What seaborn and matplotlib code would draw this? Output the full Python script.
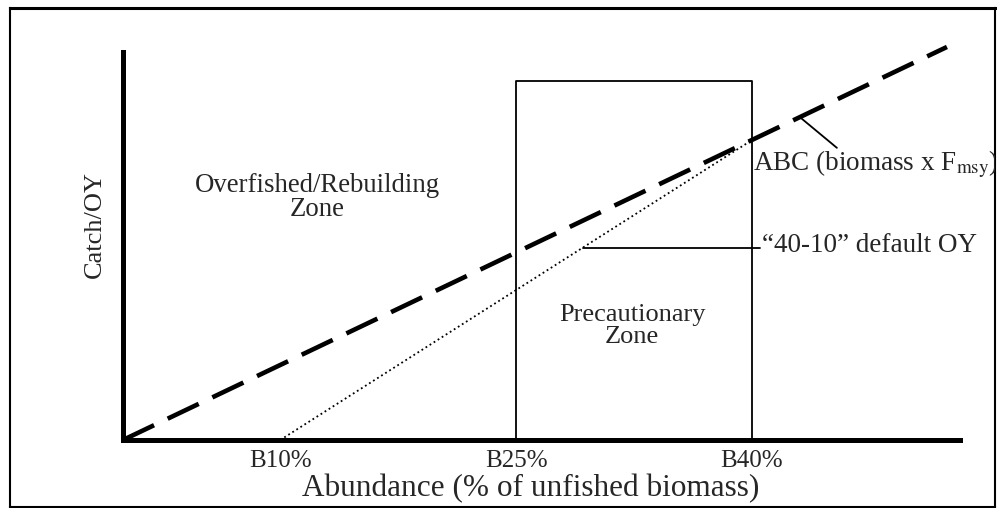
import matplotlib
matplotlib.use("Agg")
import matplotlib.pyplot as plt
import seaborn as sns

# abundance in % of unfished biomass, catch in relative units
abc_x = [0, 52.4]
abc_y = [0, 1.013]
oy_x = [10, 40]
oy_y = [0, 0.773]
zone_x = [25, 25, 40, 40]
zone_y = [0, 0.925, 0.925, 0]
tick_pos = [10, 25, 40]
tick_labels = ["B10%", "B25%", "B40%"]

sns.set_style('white')
plt.rcParams['font.family'] = ['Liberation Serif', 'DejaVu Serif']
plt.rcParams['mathtext.fontset'] = 'stix'

fig = plt.figure(figsize=(9.97, 5.08), dpi=100)

# outer frame
frame = fig.add_axes([10 / 997, 1 / 508, 985 / 997, 499 / 508])
frame.set_facecolor('none')
frame.set_xticks([])
frame.set_yticks([])
for side, sp in frame.spines.items():
    sp.set_color('black')
    sp.set_linewidth(2.2 if side == 'top' else 1.5)

ax = fig.add_axes([123 / 997, 68 / 508, 837 / 997, 388 / 508])
ax.set_facecolor('none')
ax.set_xlim(0, 53.23)
ax.set_ylim(0, 1)

sns.lineplot(x=abc_x, y=abc_y, ax=ax, color='black', linewidth=3.3, clip_on=False)
ax.lines[-1].set_dashes((7.5, 3.3))
sns.lineplot(x=oy_x, y=oy_y, ax=ax, color='black', linewidth=1.3, linestyle=':')
sns.lineplot(x=zone_x, y=zone_y, ax=ax, color='black', linewidth=1.3,
             sort=False, estimator=None)

# pointer lines
ax.plot([43.05, 45.4], [0.832, 0.753], color='black', lw=1.3)
ax.plot([29.25, 40.5], [0.495, 0.495], color='black', lw=1.3)

for side in ['top', 'right']:
    ax.spines[side].set_visible(False)
for side in ['left', 'bottom']:
    ax.spines[side].set_linewidth(3.6)
    ax.spines[side].set_color('black')

ax.set_xticks(tick_pos)
ax.set_xticklabels(tick_labels, fontsize=18)
ax.set_yticks([])
ax.tick_params(axis='x', length=0, pad=7)
ax.set_xlabel("Abundance (% of unfished biomass)", fontsize=22.5)
ax.set_ylabel("Catch/OY", fontsize=19)
ax.xaxis.set_label_coords(0.4875, -0.088)
ax.yaxis.set_label_coords(-0.02, 0.556)

ax.text(12.36, 0.625, "Overfished/Rebuilding\nZone", ha='center', va='center',
        fontsize=19.3, multialignment='center', linespacing=0.95)
ax.text(32.37, 0.294, "Precautionary\nZone", ha='center', va='center',
        fontsize=19, multialignment='center', linespacing=0.95)
frame.text(40.06, 0.696, "ABC (biomass x F$_{\\mathrm{msy}}$)", transform=ax.transData,
           ha='left', va='baseline', fontsize=19.5, clip_on=True)
ax.text(40.64, 0.485, "\u201c40-10\u201d default OY", ha='left', va='baseline',
        fontsize=19.5, clip_on=False)

fig.savefig("out.png", dpi=100)
